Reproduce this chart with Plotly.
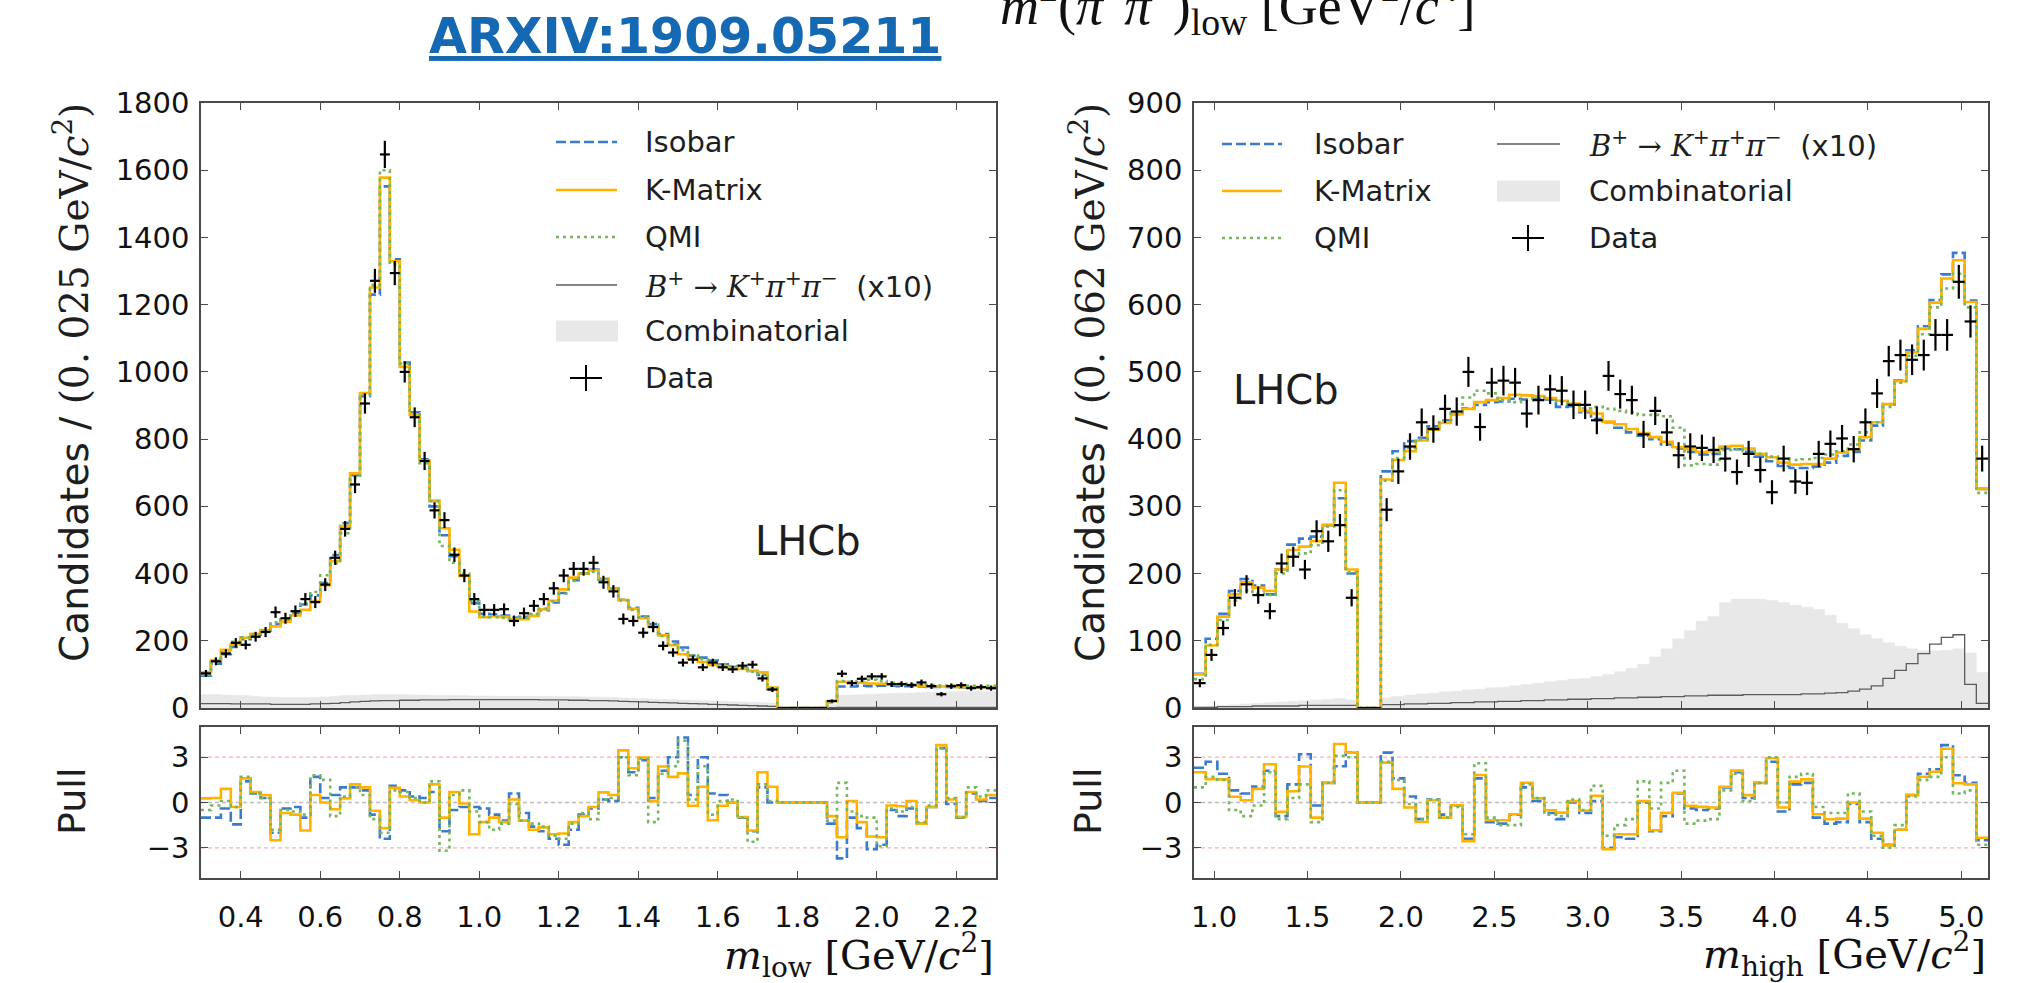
import numpy as np
import plotly.graph_objects as go

W, H = 2038, 983

# ---------------------------------------------------------------- binning
LOW_MIN, LOW_BIN = 0.3, 0.025        # m_low  : 80 bins, 0.3 - 2.3 GeV
HIGH_MIN, HIGH_BIN = 0.8925, 0.0625  # m_high : 68 bins, 0.89 - 5.14 GeV

LOW_TICKS = [0.4, 0.6, 0.8, 1.0, 1.2, 1.4, 1.6, 1.8, 2.0, 2.2]
HIGH_TICKS = [1.0, 1.5, 2.0, 2.5, 3.0, 3.5, 4.0, 4.5, 5.0]

# ---------------------------------------------------------------- m_low projection
LOW_DATA = [103, 139, 162, 194, 188, 212, 226, 285, 267, 288,
            324, 315, 367, 447, 533, 665, 906, 1271, 1647, 1294,
            1000, 865, 735, 588, 559, 456, 394, 324, 292, 292,
            294, 259, 282, 304, 324, 356, 394, 414, 414, 432,
            374, 347, 265, 259, 224, 241, 185, 165, 135, 144,
            121, 135, 121, 115, 126, 129, 88, 55, 0, 0,
            0, 0, 0, 21, 102, 74, 87, 94, 94, 71,
            71, 68, 76, 65, 41, 65, 68, 59, 62, 59]
LOW_ISOBAR = [96, 132, 160, 182, 205, 218, 230, 250, 262, 283,
              308, 335, 372, 455, 550, 693, 928, 1230, 1552, 1335,
              1028, 880, 740, 600, 514, 452, 394, 312, 280, 278,
              275, 268, 271, 278, 291, 314, 342, 380, 400, 412,
              382, 355, 322, 298, 272, 250, 220, 198, 180, 156,
              150, 141, 130, 122, 117, 110, 98, 56, 0, 0,
              0, 0, 0, 17, 64, 64, 66, 65, 66, 66,
              65, 65, 64, 63, 63, 63, 61, 61, 61, 60]
LOW_KMATRIX = [106, 143, 173, 190, 209, 221, 232, 243, 257, 275,
               292, 318, 365, 437, 541, 698, 937, 1251, 1578, 1329,
               1015, 873, 737, 617, 535, 471, 393, 287, 270, 273,
               271, 265, 264, 274, 294, 319, 353, 388, 400, 410,
               385, 355, 321, 295, 267, 242, 216, 187, 160, 146,
               137, 128, 123, 119, 116, 111, 106, 61, 0, 0,
               0, 0, 0, 20, 78, 75, 75, 73, 72, 70,
               69, 69, 66, 64, 64, 65, 62, 62, 62, 61]
LOW_QMI = [99, 137, 165, 197, 210, 219, 231, 255, 264, 285,
           311, 345, 395, 430, 520, 686, 932, 1258, 1600, 1320,
           1025, 878, 728, 615, 482, 432, 400, 318, 272, 270,
           268, 262, 268, 280, 296, 318, 340, 378, 400, 405,
           383, 356, 320, 292, 270, 248, 214, 190, 172, 157,
           145, 138, 131, 125, 119, 108, 99, 59, 0, 0,
           0, 0, 0, 20, 80, 78, 80, 84, 80, 75,
           72, 70, 69, 68, 67, 66, 66, 66, 65, 66]
LOW_COMB = [40, 40, 39, 38, 37, 35, 33, 32, 31, 31,
            31, 32, 33, 35, 37, 38, 39, 40, 40, 40,
            40, 39, 39, 38, 38, 37, 37, 36, 36, 35,
            35, 35, 35, 35, 35, 35, 34, 34, 33, 33,
            32, 31, 30, 29, 28, 27, 26, 25, 24, 23,
            22, 21, 20, 19, 18, 17, 16, 15, 0, 0,
            0, 0, 0, 10, 38, 39, 40, 41, 42, 43,
            44, 45, 46, 47, 48, 48, 49, 49, 50, 50]
LOW_BKPIPI = [13, 13, 13, 12, 12, 12, 12, 11, 11, 11,
              11, 12, 13, 14, 16, 18, 20, 21, 22, 22,
              23, 23, 24, 24, 24, 25, 25, 25, 25, 25,
              25, 25, 25, 25, 24, 24, 24, 23, 23, 22,
              22, 21, 20, 19, 18, 17, 16, 15, 14, 13,
              12, 11, 10, 9, 8, 7, 6, 5, 0, 0,
              0, 0, 0, 1, 2, 2, 2, 2, 2, 2,
              2, 2, 2, 2, 2, 2, 2, 2, 2, 2]
LOW_PULL_ISOBAR = [-1.0, -1.0, -0.4, -1.45, 1.4, 0.6, 0.3, -2.0, -0.4, -0.3,
                   -1.0, 1.7, 0.3, 0.5, 1.0, 1.0, 0.8, -0.8, -2.4, 1.1,
                   0.8, 0.4, 0.3, 0.7, -1.9, -0.5, -0.3, -0.3, -0.4, -0.8,
                   -1.2, 0.6, -0.7, -1.6, -1.9, -2.4, -2.8, -1.8, -0.8, -0.4,
                   0.2, 0.1, 3.0, 2.0, 2.8, 0.3, 2.1, 3.0, 4.3, 0.5,
                   3.0, 0.6, 0.5, 0.0, -1.0, -1.9, 1.0, 0.0, 0, 0,
                   0, 0, 0, -1.4, -3.7, -1.0, -1.7, -3.1, -2.8, -0.5,
                   -0.9, -0.4, -1.4, -0.3, 3.6, -0.1, -1.0, 0.6, 0.1, 0.3]
LOW_PULL_KMATRIX = [0.27, 0.3, 0.9, -0.3, 1.6, 0.7, 0.5, -2.5, -0.7, -0.8,
                    -1.85, 0.5, 0.0, -0.45, 0.27, 1.2, 1.0, -0.55, -1.7, 0.97,
                    0.4, 0.15, 0.0, 1.2, -1.0, 0.7, -0.07, -2.1, -1.3, -1.0,
                    -1.3, 0.2, -1.2, -1.8, -1.65, -2.1, -2.05, -1.3, -0.9, -0.3,
                    0.67, 0.5, 3.45, 2.27, 2.98, 0.09, 2.38, 1.7, 1.93, -0.22,
                    1.04, -1.18, -0.22, 0.0, -0.96, -1.85, 2.0, 1.04, 0, 0,
                    0, 0, 0, -0.9, -2.3, 0.1, -1.3, -2.25, -2.3, -0.2,
                    -0.25, 0.1, -1.4, -0.3, 3.8, 0.2, -0.95, 0.7, 0.2, 0.5]
LOW_PULL_QMI = [-0.5, -0.2, 0.1, -0.3, 1.7, 0.6, 0.3, -1.8, -0.5, -0.6,
                -0.8, 1.8, 1.5, -0.9, 0.4, 1.0, 0.5, -1.1, -2.0, 0.8,
                0.7, 0.3, 0.0, 1.4, -3.2, 0.5, 0.8, -0.6, -1.3, -1.8,
                -1.4, -0.1, -1.2, -1.4, -1.6, -2.2, -2.4, -1.4, -0.7, -1.1,
                0.2, 0.3, 3.0, 1.8, 2.9, -1.3, 1.9, 2.4, 4.1, 0.2,
                2.4, -0.8, 0.1, 0.2, -1.0, -2.6, 1.2, 0.1, 0, 0,
                0, 0, 0, -1.2, 1.3, -0.6, -0.9, -1.0, -2.9, -0.4,
                -0.6, -0.3, -1.3, -0.2, 3.6, 0.3, -1.0, 1.0, 0.4, 0.8]

# ---------------------------------------------------------------- m_high projection
HIGH_DATA = [37, 79, 119, 164, 184, 168, 144, 215, 225, 206,
             263, 248, 272, 164, 0, 0, 295, 352, 389, 425,
             415, 445, 441, 500, 418, 484, 487, 484, 438, 458,
             474, 472, 451, 451, 428, 494, 467, 458, 407, 442,
             410, 376, 389, 387, 384, 371, 351, 378, 354, 321,
             371, 337, 335, 378, 393, 401, 385, 425, 468, 516,
             525, 518, 525, 555, 555, 634, 575, 371]
HIGH_ISOBAR = [51, 103, 140, 174, 192, 182, 169, 206, 243, 252,
               255, 272, 312, 200, 0, 0, 352, 382, 397, 402,
               419, 428, 437, 446, 451, 455, 456, 460, 459, 460,
               459, 448, 449, 440, 430, 425, 417, 410, 405, 400,
               392, 386, 381, 377, 378, 386, 385, 381, 374, 367,
               360, 357, 357, 359, 365, 375, 381, 398, 420, 452,
               487, 532, 568, 607, 645, 677, 606, 326]
HIGH_KMATRIX = [50, 93, 136, 169, 187, 179, 174, 206, 235, 240,
                248, 272, 335, 206, 0, 0, 340, 369, 382, 398,
                414, 424, 437, 445, 455, 458, 461, 466, 465, 464,
                461, 457, 453, 442, 438, 426, 422, 415, 409, 403,
                396, 388, 385, 381, 382, 389, 390, 386, 378, 373,
                365, 362, 363, 363, 371, 380, 385, 403, 425, 452,
                486, 529, 564, 603, 639, 666, 604, 326]
HIGH_QMI = [43, 94, 131, 160, 175, 170, 168, 200, 226, 230,
            242, 270, 324, 202, 0, 0, 338, 372, 387, 400,
            416, 428, 440, 462, 472, 468, 458, 455, 458, 462,
            460, 456, 452, 446, 448, 445, 442, 440, 436, 436,
            434, 417, 361, 363, 362, 384, 385, 382, 378, 374,
            371, 369, 370, 372, 377, 382, 392, 410, 425, 448,
            484, 524, 556, 596, 624, 646, 596, 320]
HIGH_COMB = [2, 3, 4, 5, 6, 7, 8, 9, 10, 11,
             12, 13, 14, 12, 0, 0, 15, 17, 19, 21,
             22, 24, 25, 27, 28, 30, 31, 33, 35, 37,
             39, 41, 43, 44, 47, 50, 54, 59, 65, 76,
             88, 103, 115, 129, 136, 157, 162, 162, 162, 160,
             157, 153, 150, 147, 138, 126, 118, 109, 103, 97,
             92, 88, 85, 85, 86, 88, 82, 53]
HIGH_BKPIPI = [1, 1, 2, 2, 2, 3, 3, 3, 3, 4,
               4, 4, 4, 4, 0, 0, 5, 5, 6, 6,
               7, 7, 8, 8, 9, 9, 10, 10, 11, 11,
               12, 12, 13, 13, 14, 14, 15, 15, 16, 16,
               17, 17, 18, 18, 19, 19, 19, 20, 20, 20,
               20, 20, 21, 21, 22, 23, 25, 28, 33, 44,
               56, 66, 81, 95, 105, 109, 35, 7]
HIGH_PULL_ISOBAR = [2.3, 2.7, 1.9, 0.8, 0.6, 1.05, 2.1, -0.9, 1.2, 3.2,
                    -0.2, 1.3, 2.4, 3.3, 0, 0, 3.3, 1.6, 0.4, -1.1,
                    0.2, -0.8, -0.2, -2.4, 1.6, -1.3, -1.4, -0.8, 1.0, 0.1,
                    -0.7, -1.1, 0.0, -0.7, 0.1, -3.0, -2.3, -2.4, 0.0, -1.9,
                    -0.9, 0.6, -0.4, -0.5, -0.4, 1.0, 2.0, 0.3, 1.3, 2.7,
                    -0.6, 1.2, 1.3, -1.0, -1.4, -1.3, -0.1, -1.3, -2.4, -2.8,
                    -1.8, 0.5, 1.9, 2.2, 3.8, 1.8, 1.3, -2.5]
HIGH_PULL_KMATRIX = [2.0, 1.55, 1.53, 0.38, 0.15, 0.9, 2.53, -0.62, 0.75, 2.38,
                     -1.0, 1.3, 3.87, 3.3, 0, 0, 2.64, 0.9, -0.33, -1.29,
                     0.15, -1.0, -0.18, -2.56, 1.82, -1.18, -1.18, -0.78, 1.31, 0.27,
                     -0.51, -0.67, 0.09, -0.55, 0.44, -3.1, -2.1, -2.1, 0.09, -1.84,
                     -0.69, 0.64, -0.22, -0.29, -0.33, 1.04, 2.11, 0.49, 1.29, 2.93,
                     -0.33, 1.38, 1.53, -0.78, -1.11, -1.07, 0.0, -1.07, -2.0, -2.84,
                     -1.8, 0.49, 1.71, 2.04, 3.56, 1.27, 1.2, -2.33]
HIGH_PULL_QMI = [1.0, 1.7, 1.5, -0.5, -0.9, -0.2, 2.0, -1.1, 0.3, 1.2,
                 -1.3, 1.3, 3.1, 3.0, 0, 0, 2.7, 1.5, -0.1, -1.1,
                 0.2, -1.0, -0.3, -2.1, 2.6, -1.0, -1.5, -1.5, 1.2, 0.3,
                 -0.8, -0.9, 0.2, -0.5, 1.1, -2.2, -1.5, -1.1, 1.4, -0.4,
                 1.3, 2.1, -1.4, -1.2, -1.1, 0.8, 1.9, 0.1, 1.3, 3.0,
                 0.0, 1.7, 1.9, -0.3, -0.7, -0.7, 0.6, -0.6, -2.2, -3.0,
                 -1.5, 0.4, 1.5, 1.7, 3.0, 0.6, 0.8, -2.8]

# ---------------------------------------------------------------- styling
C_ISO = "#3a7bcc"
C_KM = "#ffb300"
C_QMI = "#77b65e"
C_BKP = "#5c5c5c"
C_COMB = "#e8e8e8"
C_FRAME = "#4a4a4a"
C_TEXT = "#1e1e1e"
SANS = "DejaVu Sans"
SERIF = "DejaVu Serif"

DASH_ISO = "10px,4px"
DASH_QMI = "3px,4px"
LW = 2.6


def P(px):
    return px / W


def Q(py):
    return 1 - py / H


# panel geometry in page pixels
LEFT_X = (201, 996)
RIGHT_X = (1194, 1988)
MAIN_Y = (103, 708)
PULL_Y = (727, 878)

fig = go.Figure()


def edges(lo, width, n):
    return lo + width * np.arange(n + 1)


def closed(vals):
    vals = list(vals)
    return vals + [vals[-1]]


def step_line(xa, ya, e, vals, color, dash, width):
    fig.add_trace(go.Scatter(
        x=e, y=closed(vals), mode="lines", xaxis=xa, yaxis=ya,
        line=dict(shape="hv", color=color, dash=dash, width=width),
        hoverinfo="skip"))


def panel(xm, ym, xp, yp, lo, width, data, iso, km, qmi, comb, bkp,
          p_iso, p_km, p_qmi):
    n = len(data)
    e = edges(lo, width, n)
    centers = e[:-1] + width / 2

    # combinatorial background (filled histogram)
    fig.add_trace(go.Scatter(
        x=e, y=closed(comb), mode="lines", xaxis=xm, yaxis=ym,
        line=dict(shape="hv", color=C_COMB, width=0.5),
        fill="tozeroy", fillcolor=C_COMB, hoverinfo="skip"))
    # B+ -> K+ pi+ pi- misidentified background, scaled by 10
    step_line(xm, ym, e, bkp, C_BKP, "solid", 1.3)

    # the three amplitude models
    step_line(xm, ym, e, iso, C_ISO, DASH_ISO, LW)
    step_line(xm, ym, e, km, C_KM, "solid", LW)
    step_line(xm, ym, e, qmi, C_QMI, DASH_QMI, LW)

    # data with Poisson errors
    fig.add_trace(go.Scatter(
        x=centers, y=data, mode="markers", xaxis=xm, yaxis=ym,
        marker=dict(size=2, color="black"),
        error_x=dict(type="constant", value=width / 2, width=0,
                     thickness=2.2, color="black"),
        error_y=dict(type="data", array=np.sqrt(np.array(data, float)),
                     width=0, thickness=2.2, color="black"),
        hoverinfo="skip"))

    # pulls
    step_line(xp, yp, e, p_iso, C_ISO, DASH_ISO, LW)
    step_line(xp, yp, e, p_km, C_KM, "solid", LW)
    step_line(xp, yp, e, p_qmi, C_QMI, DASH_QMI, LW)


panel("x", "y", "x2", "y2", LOW_MIN, LOW_BIN, LOW_DATA, LOW_ISOBAR,
      LOW_KMATRIX, LOW_QMI, LOW_COMB, LOW_BKPIPI,
      LOW_PULL_ISOBAR, LOW_PULL_KMATRIX, LOW_PULL_QMI)
panel("x3", "y3", "x4", "y4", HIGH_MIN, HIGH_BIN, HIGH_DATA, HIGH_ISOBAR,
      HIGH_KMATRIX, HIGH_QMI, HIGH_COMB, HIGH_BKPIPI,
      HIGH_PULL_ISOBAR, HIGH_PULL_KMATRIX, HIGH_PULL_QMI)

# ---------------------------------------------------------------- axes
base = dict(showline=True, linecolor=C_FRAME, linewidth=1.5, mirror="ticks",
            ticks="inside", ticklen=7, tickwidth=1.3, tickcolor=C_FRAME,
            showgrid=False, zeroline=False, automargin=False,
            tickfont=dict(family=SANS, size=29, color="#111"))

low_range = [LOW_MIN, LOW_MIN + LOW_BIN * len(LOW_DATA)]
high_range = [HIGH_MIN, HIGH_MIN + HIGH_BIN * len(HIGH_DATA)]

fig.update_layout(
    xaxis=dict(base, domain=[P(LEFT_X[0]), P(LEFT_X[1])], range=low_range,
               tickvals=LOW_TICKS, showticklabels=False, anchor="y"),
    yaxis=dict(base, domain=[Q(MAIN_Y[1]), Q(MAIN_Y[0])], range=[0, 1800],
               dtick=200, anchor="x", ticklabelstandoff=4),
    xaxis2=dict(base, domain=[P(LEFT_X[0]), P(LEFT_X[1])], range=low_range,
                tickvals=LOW_TICKS, tickformat=".1f", anchor="y2",
                ticklabelstandoff=12),
    yaxis2=dict(base, domain=[Q(PULL_Y[1]), Q(PULL_Y[0])], range=[-5, 5],
                tickvals=[-3, 0, 3], anchor="x2", ticklabelstandoff=4),
    xaxis3=dict(base, domain=[P(RIGHT_X[0]), P(RIGHT_X[1])], range=high_range,
                tickvals=HIGH_TICKS, showticklabels=False, anchor="y3"),
    yaxis3=dict(base, domain=[Q(MAIN_Y[1]), Q(MAIN_Y[0])], range=[0, 900],
                dtick=100, anchor="x3", ticklabelstandoff=4),
    xaxis4=dict(base, domain=[P(RIGHT_X[0]), P(RIGHT_X[1])], range=high_range,
                tickvals=HIGH_TICKS, tickformat=".1f", anchor="y4",
                ticklabelstandoff=12),
    yaxis4=dict(base, domain=[Q(PULL_Y[1]), Q(PULL_Y[0])], range=[-5, 5],
                tickvals=[-3, 0, 3], anchor="x4", ticklabelstandoff=4),
)

shapes = []
# reference lines in the pull panels
for xr, yr in (("x2 domain", "y2"), ("x4 domain", "y4")):
    for yv, col in ((3, "#f6b3b3"), (-3, "#f6b3b3"), (0, "#bdbdbd")):
        shapes.append(dict(type="line", xref=xr, yref=yr, x0=0, x1=1,
                           y0=yv, y1=yv, layer="below",
                           line=dict(color=col, width=1.3, dash="4px,3px")))

annotations = []


def text(x, y, s, size=29, family=SANS, color=C_TEXT, xanchor="left",
         yanchor="middle", angle=0):
    annotations.append(dict(
        x=P(x), y=Q(y), xref="paper", yref="paper", text=s, showarrow=False,
        xanchor=xanchor, yanchor=yanchor, textangle=angle,
        font=dict(family=family, size=size, color=color)))


def key_line(x0, x1, y, color, dash, width=LW):
    shapes.append(dict(type="line", xref="paper", yref="paper",
                       x0=P(x0), x1=P(x1), y0=Q(y), y1=Q(y),
                       line=dict(color=color, dash=dash, width=width)))


def key_patch(x0, x1, y, h=21):
    shapes.append(dict(type="rect", xref="paper", yref="paper",
                       x0=P(x0), x1=P(x1), y0=Q(y + h / 2), y1=Q(y - h / 2),
                       fillcolor=C_COMB, line=dict(width=0)))


def key_cross(xc, y, hw=16, hh=13):
    key_line(xc - hw, xc + hw, y, "black", "solid", 2)
    shapes.append(dict(type="line", xref="paper", yref="paper",
                       x0=P(xc), x1=P(xc), y0=Q(y - hh), y1=Q(y + hh),
                       line=dict(color="black", width=2)))


NB = "\u00a0"
BKP_LABEL = (f'<span style="font-family:{SERIF}"><i>B</i><sup>+</sup>{NB}→{NB}'
             f'<i>K</i><sup>+</sup><i>π</i><sup>+</sup><i>π</i><sup>−</sup></span>'
             f'{NB}{NB}(x10)')

# legend, left panel (single column)
rows = [142, 190, 237, 285, 331, 378]
key_line(556, 617, rows[0], C_ISO, DASH_ISO)
key_line(556, 617, rows[1], C_KM, "solid")
key_line(556, 617, rows[2], C_QMI, DASH_QMI)
key_line(556, 617, rows[3], C_BKP, "solid", 1.3)
key_patch(556, 618, rows[4])
key_cross(586, rows[5])
for r, s in zip(rows, ["Isobar", "K-Matrix", "QMI", BKP_LABEL,
                       "Combinatorial", "Data"]):
    text(643, r, s)

# legend, right panel (two columns)
rows = [144, 191, 238]
key_line(1222, 1282, rows[0], C_ISO, DASH_ISO)
key_line(1222, 1282, rows[1], C_KM, "solid")
key_line(1222, 1282, rows[2], C_QMI, DASH_QMI)
for r, s in zip(rows, ["Isobar", "K-Matrix", "QMI"]):
    text(1312, r, s)
key_line(1497, 1560, rows[0], C_BKP, "solid", 1.3)
key_patch(1497, 1560, rows[1])
key_cross(1528, rows[2])
for r, s in zip(rows, [BKP_LABEL, "Combinatorial", "Data"]):
    text(1587, r, s)

# experiment labels
text(808, 541, "LHCb", size=40, xanchor="center")
text(1286, 390, "LHCb", size=40, xanchor="center")

# axis titles
YT_LOW = (f'Candidates / <span style="font-family:{SERIF}">'
          f'(0.{NB}025{NB}GeV/<i>c</i><sup>2</sup>)</span>')
YT_HIGH = (f'Candidates / <span style="font-family:{SERIF}">'
           f'(0.{NB}062{NB}GeV/<i>c</i><sup>2</sup>)</span>')
text(72, 383, YT_LOW, size=39, xanchor="center", angle=-90)
text(1088, 383, YT_HIGH, size=39, xanchor="center", angle=-90)
text(72, 802, "Pull", size=38, xanchor="center", angle=-90)
text(1088, 802, "Pull", size=38, xanchor="center", angle=-90)
text(996, 955, "<i>m</i><sub>low</sub> [GeV/<i>c</i><sup>2</sup>]",
     size=40, family=SERIF, color="#111", xanchor="right")
text(1988, 954, "<i>m</i><sub>high</sub> [GeV/<i>c</i><sup>2</sup>]",
     size=40, family=SERIF, color="#111", xanchor="right")

# header texts
text(1238, 5, "<i>m</i><sup>2</sup>(<i>π</i><sup>+</sup><i>π</i><sup>−</sup>)"
     "<sub>low</sub> [GeV<sup>2</sup>/<i>c</i><sup>4</sup>]",
     size=54, family="Liberation Serif", color="#111", xanchor="center")
text(685, 37, "<u><b>ARXIV:1909.05211</b></u>", size=49,
     color="#1569b3", xanchor="center")

fig.update_layout(
    width=W, height=H, autosize=False,
    margin=dict(l=0, r=0, t=0, b=0, pad=0, autoexpand=False),
    paper_bgcolor="white", plot_bgcolor="white",
    showlegend=False, shapes=shapes, annotations=annotations,
)

fig.write_html("out.html")
